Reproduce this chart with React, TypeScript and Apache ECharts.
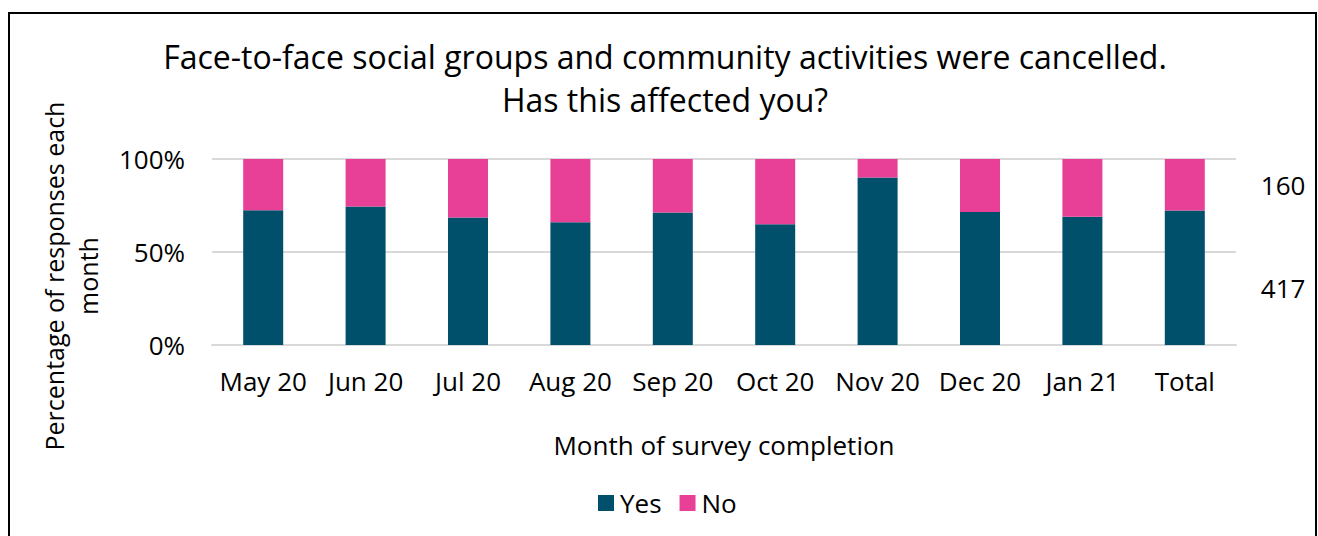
import React, { useEffect, useRef } from "react";
import * as echarts from "echarts";

const categories = ["May 20", "Jun 20", "Jul 20", "Aug 20", "Sep 20", "Oct 20", "Nov 20", "Dec 20", "Jan 21", "Total"];
const yesPct = [72.4, 74.4, 68.6, 66.0, 71.3, 64.9, 90.0, 71.5, 69.0, 72.3];
const noPct = [27.6, 25.6, 31.4, 34.0, 28.7, 35.1, 10.0, 28.5, 31.0, 27.7];
const totalYesCount = 417;
const totalNoCount = 160;
const yTicks = ["0%", "50%", "100%"];

const FONT = "Open Sans";
const YES = "#00506B";
const NO = "#E84096";
const FS = 26;

export default function App() {
  const ref = useRef<HTMLDivElement>(null);
  useEffect(() => {
    const chart = echarts.init(ref.current!, undefined, { renderer: "svg" });
    const last = categories.length - 1;
    const mk = (vals: number[], count: number, off: number[]) =>
      vals.map((v, i) =>
        i === last
          ? {
              value: v,
              label: {
                show: true,
                position: "right",
                distance: 56,
                offset: off,
                formatter: String(count),
                color: "#000",
                fontSize: FS,
                fontFamily: FONT,
              },
            }
          : v
      );
    chart.setOption({
      animation: false,
      textStyle: { fontFamily: FONT },
      graphic: [
        {
          type: "rect",
          shape: { x: 9, y: 13, width: 1307, height: 540 },
          style: { fill: "none", stroke: "#000", lineWidth: 2 },
          silent: true,
        },
      ],
      title: {
        text: "Face-to-face social groups and community activities were cancelled.\nHas this affected you?",
        left: 660,
        textAlign: "center",
        top: 30,
        textStyle: { fontSize: 32, fontWeight: "normal", color: "#000", fontFamily: FONT, lineHeight: 43 },
      },
      legend: {
        data: ["Yes", "No"],
        left: 593,
        top: 485,
        itemWidth: 16,
        itemHeight: 16,
        itemGap: 18,
        icon: "rect",
        textStyle: { fontSize: FS, color: "#000", fontFamily: FONT, padding: [0, 0, 0, 1] },
      },
      grid: { left: 212, right: 82, top: 159, bottom: 191 },
      xAxis: {
        type: "category",
        data: categories,
        name: "Month of survey completion",
        nameLocation: "middle",
        nameGap: 87,
        nameTextStyle: { fontSize: FS, color: "#000", fontFamily: FONT },
        axisLine: { lineStyle: { color: "#d9d9d9", width: 2 } },
        axisTick: { show: false },
        axisLabel: { fontSize: FS, color: "#000", margin: 23, fontFamily: FONT, interval: 0 },
      },
      yAxis: {
        type: "value",
        min: 0,
        max: 100,
        interval: 50,
        name: "Percentage of responses each\nmonth",
        nameLocation: "middle",
        nameGap: 107,
        nameTextStyle: {
          fontSize: 25,
          color: "#000",
          fontFamily: FONT,
          lineHeight: 34,
          padding: [0, 48, 0, 0],
        },
        axisLabel: {
          fontSize: FS,
          color: "#000",
          margin: 27,
          fontFamily: FONT,
          formatter: (v: number) => yTicks[Math.round(v / 50)],
        },
        splitLine: { lineStyle: { color: "#d9d9d9", width: 2 } },
      },
      series: [
        {
          name: "Yes",
          type: "bar",
          stack: "s",
          barWidth: 40,
          itemStyle: { color: YES },
          data: mk(yesPct, totalYesCount, [0, 10]),
        },
        {
          name: "No",
          type: "bar",
          stack: "s",
          barWidth: 40,
          itemStyle: { color: NO },
          data: mk(noPct, totalNoCount, [0, 0]),
        },
      ],
    });
    return () => chart.dispose();
  }, []);
  return (
    <div
      ref={ref}
      style={{ position: "absolute", left: 0, top: 0, width: 1318, height: 536, background: "#fff" }}
    />
  );
}
